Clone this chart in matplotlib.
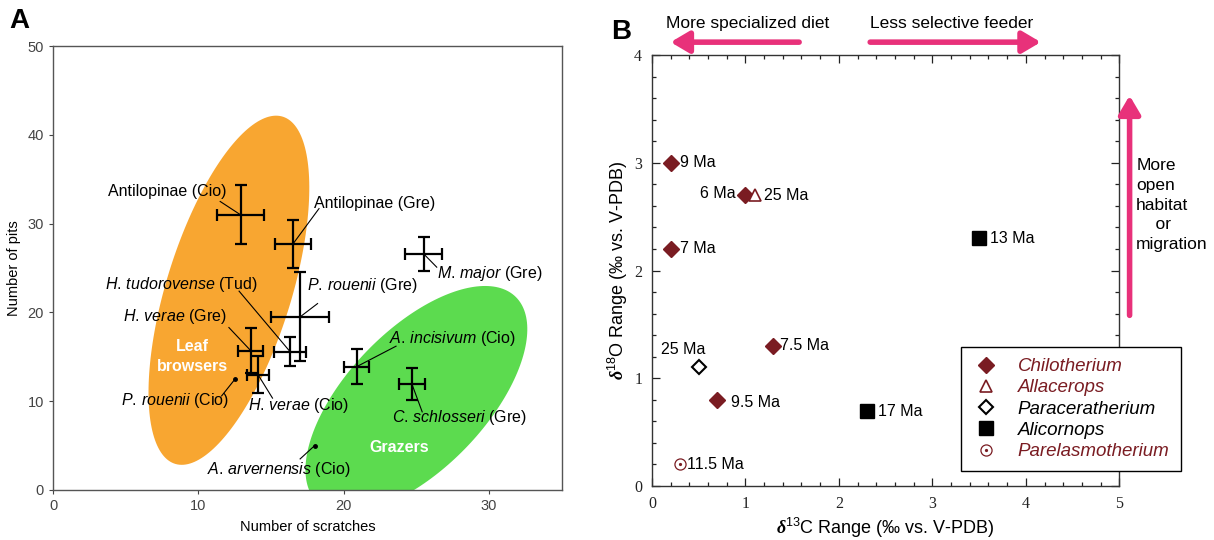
import numpy as np
import matplotlib.pyplot as plt
from matplotlib.lines import Line2D
from matplotlib.legend_handler import HandlerTuple
from matplotlib.ticker import MultipleLocator

plt.rcParams['font.family'] = ['Liberation Sans', 'DejaVu Sans']
plt.rcParams['mathtext.fontset'] = 'custom'
plt.rcParams['mathtext.rm'] = 'Liberation Sans'
plt.rcParams['mathtext.it'] = 'Liberation Sans:italic'
plt.rcParams['mathtext.bf'] = 'Liberation Serif:bold'
plt.rcParams['mathtext.bfit'] = 'Liberation Serif:bold:italic'


def it(genus, species):
    return r"$\mathit{%s\,%s}$" % (genus, species)


# ---- panel A: dental microwear (scratches vs pits) ----
taxa = [
    "Antilopinae (Cio)", "Antilopinae (Gre)", it("M.", "major") + " (Gre)",
    it("P.", "rouenii") + " (Gre)", it("H.", "tudorovense") + " (Tud)",
    it("H.", "verae") + " (Gre)", it("H.", "verae") + " (Cio)",
    it("A.", "incisivum") + " (Cio)", it("C.", "schlosseri") + " (Gre)",
    it("P.", "rouenii") + " (Cio)", it("A.", "arvernensis") + " (Cio)",
]
scratches = [12.9, 16.5, 25.5, 17.0, 16.3, 13.6, 14.1, 20.9, 24.7, 12.5, 18.0]
pits = [31.0, 27.7, 26.6, 19.5, 15.6, 15.7, 13.0, 13.9, 11.9, 12.45, 5.0]
scratch_err = [1.6, 1.25, 1.25, 2.0, 1.1, 0.85, 0.75, 0.85, 0.9, 0, 0]
pit_err = [3.3, 2.7, 1.9, 5.0, 1.6, 2.5, 2.1, 1.95, 1.8, 0, 0]

# label placement: text x, text y, ha, leader start x, leader start y
label_layout = [
    (11.95, 33.6, 'right', 11.5, 32.5),
    (17.95, 32.3, 'left', 18.3, 31.7),
    (26.4, 24.4, 'left', 26.4, 25.1),
    (17.5, 23.0, 'left', 18.2, 21.0),
    (14.1, 23.2, 'right', 12.8, 22.4),
    (11.95, 19.5, 'right', 12.1, 18.3),
    (13.4, 9.5, 'left', 15.1, 10.35),
    (23.1, 17.1, 'left', 23.6, 16.2),
    (23.35, 8.2, 'left', 25.4, 8.8),
    (12.1, 10.05, 'right', 11.6, 10.6),
    (10.6, 2.3, 'left', 17.0, 3.5),
]

# ---- panel B: isotope ranges ----
genera = ["Chilotherium", "Allacerops", "Paraceratherium", "Alicornops", "Parelasmotherium"]
c13_range = {
    "Chilotherium": [0.2, 1.0, 0.2, 1.3, 0.7],
    "Allacerops": [1.1],
    "Paraceratherium": [0.5],
    "Alicornops": [3.5, 2.3],
    "Parelasmotherium": [0.3],
}
o18_range = {
    "Chilotherium": [3.0, 2.7, 2.2, 1.3, 0.8],
    "Allacerops": [2.7],
    "Paraceratherium": [1.1],
    "Alicornops": [2.3, 0.7],
    "Parelasmotherium": [0.2],
}
ages = {
    "Chilotherium": ["9 Ma", "6 Ma", "7 Ma", "7.5 Ma", "9.5 Ma"],
    "Allacerops": ["25 Ma"],
    "Paraceratherium": ["25 Ma"],
    "Alicornops": ["13 Ma", "17 Ma"],
    "Parelasmotherium": ["11.5 Ma"],
}
# age label offsets in points (dx, dy, ha)
age_offsets = {
    "Chilotherium": [(7, 0, 'left'), (-7, 1, 'right'), (7, 0, 'left'), (5, 0, 'left'), (10, -2, 'left')],
    "Allacerops": [(7, 0, 'left')],
    "Paraceratherium": [(-27, 13, 'left')],
    "Alicornops": [(8, 0, 'left'), (8, -1, 'left')],
    "Parelasmotherium": [(5, 0, 'left')],
}

MAROON = '#7a1c22'
PINK = '#e8317a'
styles = {
    "Chilotherium": dict(marker='D', ms=8, mfc=MAROON, mec=MAROON),
    "Allacerops": dict(marker='^', ms=9, mfc='white', mec=MAROON, mew=1.2),
    "Paraceratherium": dict(marker='D', ms=7.5, mfc='white', mec='black', mew=1.5),
    "Alicornops": dict(marker='s', ms=9.5, mfc='black', mec='black'),
    "Parelasmotherium": dict(marker='o', ms=8, mfc='white', mec=MAROON, mew=0.9),
}
legend_colors = [MAROON, MAROON, 'black', 'black', MAROON]


def ellipse_pts(center, major, minor, n=200):
    t = np.linspace(0, 2 * np.pi, n)
    c, a, b = np.array(center), np.array(major), np.array(minor)
    pts = c[:, None] + a[:, None] * np.cos(t) + b[:, None] * np.sin(t)
    return pts[0], pts[1]


fig = plt.figure(figsize=(12.14, 5.4), dpi=100)

# ================= Panel A =================
axA = fig.add_axes([0.0437, 0.0926, 0.419, 0.822])
axA.set_xlim(0, 35)
axA.set_ylim(0, 50)

ex, ey = ellipse_pts((12.1, 22.5), (3.6, 19.6), (4.2, -1.6))
axA.fill(ex, ey, color='#f8a631', lw=0, zorder=1)
ex, ey = ellipse_pts((25.0, 10.2), (6.5, 12.0), (4.0, -4.4))
axA.fill(ex, ey, color='#5cdb4f', lw=0, zorder=1)

axA.text(9.6, 15.0, "Leaf\nbrowsers", color='white', fontsize=11.5, fontweight='bold',
         ha='center', va='center', linespacing=1.4, zorder=2)
axA.text(23.8, 4.8, "Grazers", color='white', fontsize=11.5, fontweight='bold',
         ha='center', va='center', zorder=2)

for i, name in enumerate(taxa):
    x, y = scratches[i], pits[i]
    if scratch_err[i] > 0:
        axA.errorbar(x, y, xerr=scratch_err[i], yerr=pit_err[i], fmt='none',
                     ecolor='black', elinewidth=1.6, capsize=4, capthick=1.6, zorder=4)
    else:
        axA.plot(x, y, 'o', color='black', ms=2.5, zorder=4)
    tx, ty, ha, lx, ly = label_layout[i]
    axA.plot([lx, x], [ly, y], color='black', lw=0.8, zorder=3)
    axA.text(tx, ty, name, fontsize=11.5, ha=ha, va='center', zorder=5)

axA.set_xticks([0, 10, 20, 30])
axA.set_yticks([0, 10, 20, 30, 40, 50])
axA.tick_params(direction='out', length=3, width=0.8, colors='#444444', labelsize=10.5)
for s in axA.spines.values():
    s.set_color('#555555')
    s.set_linewidth(1.0)
axA.set_xlabel("Number of scratches", fontsize=10.5, labelpad=5)
axA.set_ylabel("Number of pits", fontsize=10.5, labelpad=5)
fig.text(0.008, 0.962, "A", fontsize=20, fontweight='bold', ha='left', va='center')

# ================= Panel B =================
axB = fig.add_axes([0.537, 0.100, 0.385, 0.798])
axB.set_xlim(0, 5)
axB.set_ylim(0, 4)

handles = []
for g in genera:
    st = styles[g]
    axB.plot(c13_range[g], o18_range[g], ls='none', zorder=4, **st)
    h = Line2D([], [], ls='none', **st)
    if g == "Parelasmotherium":
        axB.plot(c13_range[g], o18_range[g], ls='none', marker='o', ms=1.3,
                 color=MAROON, zorder=5)
        dot = Line2D([], [], ls='none', marker='o', ms=1.3, color=MAROON)
        h = (h, dot)
    handles.append(h)
    for j, age in enumerate(ages[g]):
        dx, dy, ha = age_offsets[g][j]
        axB.annotate(age, (c13_range[g][j], o18_range[g][j]), xytext=(dx, dy),
                     textcoords='offset points', ha=ha, va='center', fontsize=11.5)

leg = axB.legend(handles, genera, loc='lower left', bbox_to_anchor=(0.662, 0.034),
                 handler_map={tuple: HandlerTuple(ndivide=1, pad=0)},
                 frameon=True, fancybox=False, edgecolor='black', framealpha=1,
                 prop={'style': 'italic', 'size': 13.5}, handlelength=1.4,
                 handletextpad=1.0, labelspacing=0.22, borderpad=0.6,
                 borderaxespad=0)
leg.get_frame().set_linewidth(1.0)
for txt, col in zip(leg.get_texts(), legend_colors):
    txt.set_color(col)
leg.set_zorder(10)

axB.xaxis.set_major_locator(MultipleLocator(1))
axB.xaxis.set_minor_locator(MultipleLocator(0.2))
axB.yaxis.set_major_locator(MultipleLocator(1))
axB.yaxis.set_minor_locator(MultipleLocator(0.2))
axB.tick_params(which='both', direction='in', top=True, right=True, width=0.9,
                colors='#222222', labelsize=11.5, pad=7)
axB.tick_params(which='major', length=6)
axB.tick_params(which='minor', length=3)
for lab in axB.get_xticklabels() + axB.get_yticklabels():
    lab.set_family('Liberation Serif')
for s in axB.spines.values():
    s.set_color('#333333')
    s.set_linewidth(1.0)
axB.set_xlabel(r"$\boldsymbol{\delta}^{13}$C Range (‰ vs. V-PDB)", fontsize=13, labelpad=3)
axB.set_ylabel(r"$\boldsymbol{\delta}^{18}$O Range (‰ vs. V-PDB)", fontsize=13, labelpad=3)

arrow_kw = dict(arrowstyle='-|>,head_length=1.1,head_width=0.65', lw=4, color=PINK,
                shrinkA=0, shrinkB=0)
axB.annotate('', xy=(0.04, 1.03), xytext=(0.315, 1.03), xycoords='axes fraction',
             arrowprops=arrow_kw, annotation_clip=False)
axB.annotate('', xy=(0.832, 1.03), xytext=(0.467, 1.03), xycoords='axes fraction',
             arrowprops=arrow_kw, annotation_clip=False)
axB.annotate('', xy=(1.022, 0.906), xytext=(1.022, 0.396), xycoords='axes fraction',
             arrowprops=arrow_kw, annotation_clip=False)
axB.text(0.204, 1.073, "More specialized diet", transform=axB.transAxes, ha='center',
         va='center', fontsize=12.5)
axB.text(0.641, 1.073, "Less selective feeder", transform=axB.transAxes, ha='center',
         va='center', fontsize=12.5)
axB.text(1.036, 0.652, "More\nopen\nhabitat\n    or\nmigration", transform=axB.transAxes,
         ha='left', va='center', fontsize=12.5, linespacing=1.4)
fig.text(0.503, 0.94, "B", fontsize=20, fontweight='bold', ha='left', va='center')

fig.savefig("out.png", dpi=100)
